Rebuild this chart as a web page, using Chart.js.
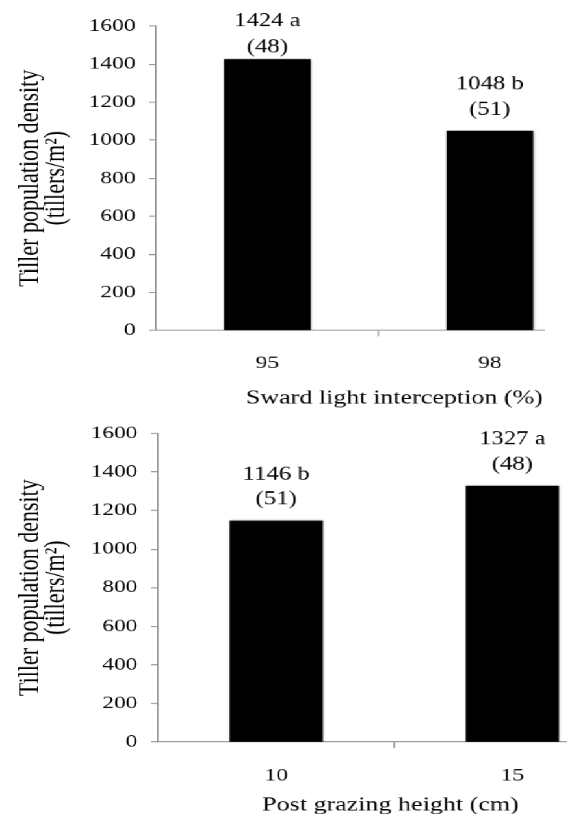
<!DOCTYPE html>
<html>
<head>
<meta charset="utf-8">
<script src="https://cdn.jsdelivr.net/npm/chart.js@4/dist/chart.umd.min.js"></script>
<style>
  html, body { margin: 0; padding: 0; background: #fff; overflow: hidden; width: 567px; height: 814px; }
  #wrap { width: 440px; transform: scaleX(1.3); transform-origin: 0 0; }
  canvas { display: block; }
</style>
</head>
<body>
<div id="wrap">
  <canvas id="c1" width="419" height="412"></canvas>
  <canvas id="c2" width="439" height="420"></canvas>
</div>
<script>
// ---- Data ----
const lightCategories = ['95', '98'];
const lightValues = [1424, 1048];
const lightLetters = ['a', 'b'];
const lightCounts = [48, 51];
const lightTitle = 'Sward light interception (%)';

const heightCategories = ['10', '15'];
const heightValues = [1146, 1327];
const heightLetters = ['b', 'a'];
const heightCounts = [51, 48];
const heightTitle = 'Post grazing height (cm)';

const yTitle = ['Tiller population density', '(tillers/m\u00B2)'];
const yMin = 0;
const yMax = 1600;
const yStep = 200;

// ---- Styles ----
const FONT = '"Liberation Serif", serif';
const AXIS = '#8a8a8a';
const TEXT = '#000';

function makeChart(id, cats, vals, letters, counts, xTitle, lay) {
  const shadowPlugin = {
    id: 'barShadow',
    beforeDatasetDraw(chart) {
      const ctx = chart.ctx;
      ctx.save();
      ctx.shadowColor = 'rgba(0,0,0,0.35)';
      ctx.shadowBlur = 3;
      ctx.shadowOffsetX = 1;
      ctx.shadowOffsetY = 0;
    },
    afterDatasetDraw(chart) { chart.ctx.restore(); }
  };
  const labelPlugin = {
    id: 'barLabels',
    afterDatasetsDraw(chart) {
      const ctx = chart.ctx;
      const meta = chart.getDatasetMeta(0);
      ctx.save();
      ctx.fillStyle = TEXT;
      ctx.font = '19px ' + FONT;
      ctx.textAlign = 'center';
      ctx.textBaseline = 'middle';
      meta.data.forEach((el, i) => {
        let y2 = el.y - 21.5;
        let y1 = y2 - 25;
        if (y1 < lay.labelTopMin) { y1 = lay.labelTopMin; y2 = y1 + 26; }
        ctx.fillText(vals[i] + ' ' + letters[i], el.x, y1);
        ctx.fillText('(' + counts[i] + ')', el.x, y2);
      });
      ctx.restore();
    }
  };
  const xTitlePlugin = {
    id: 'xTitle',
    afterDraw(chart) {
      const ctx = chart.ctx;
      ctx.save();
      ctx.fillStyle = TEXT;
      ctx.font = '20px ' + FONT;
      ctx.textAlign = 'center';
      ctx.textBaseline = 'middle';
      ctx.fillText(xTitle, lay.xTitleX, lay.xTitleY);
      ctx.restore();
    }
  };

  return new Chart(document.getElementById(id), {
    type: 'bar',
    data: {
      datasets: [{
        data: vals.map((v, i) => ({ x: i + 1, y: v })),
        backgroundColor: '#000',
        borderWidth: 0,
        barThickness: lay.barThickness
      }]
    },
    options: {
      responsive: false,
      maintainAspectRatio: false,
      animation: false,
      devicePixelRatio: 1.3,
      layout: { padding: { top: lay.top, left: 0, right: 0, bottom: 0 } },
      plugins: { legend: { display: false }, tooltip: { enabled: false }, title: { display: false } },
      scales: {
        x: {
          type: 'linear',
          offset: false,
          min: 0.5,
          max: 2.25,
          afterBuildTicks(s) { s.ticks = [{ value: 1 }, { value: 1.5 }, { value: 2 }]; },
          afterFit(s) { s.height = lay.bottomH; },
          ticks: {
            autoSkip: false,
            maxRotation: 0,
            padding: lay.xTickPad,
            color: TEXT,
            font: { family: FONT, size: 18 },
            callback(v) { return Number.isInteger(v) ? cats[v - 1] : ''; }
          },
          grid: {
            offset: false,
            drawOnChartArea: false,
            drawTicks: true,
            tickLength: 6,
            tickColor: (c) => (c.tick && c.tick.value === 1.5) ? AXIS : 'rgba(0,0,0,0)'
          },
          border: { display: true, color: AXIS, width: 1 }
        },
        y: {
          min: yMin,
          max: yMax,
          afterFit(s) { s.width = lay.leftW; },
          ticks: {
            stepSize: yStep,
            padding: 10.5,
            color: TEXT,
            font: { family: FONT, size: 18 },
            callback(v) { return String(v); }
          },
          grid: {
            drawOnChartArea: false,
            drawTicks: true,
            tickLength: 5.4,
            tickColor: AXIS
          },
          border: { display: true, color: AXIS, width: 1 },
          title: {
            display: true,
            text: yTitle,
            color: TEXT,
            font: { family: FONT, size: 22, lineHeight: 0.92 },
            padding: { top: 13, bottom: 0 }
          }
        }
      }
    },
    plugins: [shadowPlugin, labelPlugin, xTitlePlugin]
  });
}

function build() {
  makeChart('c1', lightCategories, lightValues, lightLetters, lightCounts, lightTitle, {
    top: 26, bottomH: 82, leftW: 120, barThickness: 66, xTickPad: 16,
    labelTopMin: 21.5, xTitleX: 303, xTitleY: 398
  });
  makeChart('c2', heightCategories, heightValues, heightLetters, heightCounts, heightTitle, {
    top: 16, bottomH: 90, leftW: 121.5, barThickness: 71, xTickPad: 17,
    labelTopMin: 10, xTitleX: 300, xTitleY: 393
  });
}

Promise.all([
  document.fonts.load('18px "Liberation Serif"'),
  document.fonts.load('22px "Liberation Serif"')
]).then(build, build);
</script>
</body>
</html>
